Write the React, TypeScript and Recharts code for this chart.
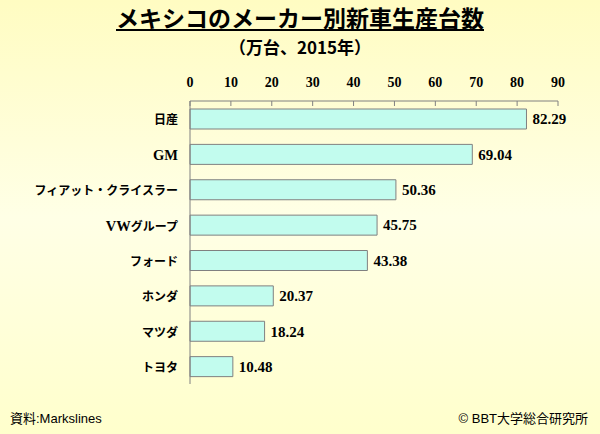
import { BarChart, Bar, XAxis, YAxis, LabelList } from 'recharts';

const makers = ['日産', 'GM', 'フィアット・クライスラー', 'VWグループ', 'フォード', 'ホンダ', 'マツダ', 'トヨタ'];
const units = [82.29, 69.04, 50.36, 45.75, 43.38, 20.37, 18.24, 10.48];
const xTicks = [0, 10, 20, 30, 40, 50, 60, 70, 80, 90];

const data = makers.map((name, i) => ({ name, value: units[i] }));

const SANS = '"Noto Sans CJK JP", "Liberation Sans", Arial, sans-serif';
const LATIN_SANS = '"Liberation Sans", Arial, "Noto Sans CJK JP", sans-serif';
const SERIF = '"Liberation Serif", "Times New Roman", serif';

function TopTick(props: any) {
  const { x, y, payload } = props;
  return (
    <g>
      <line x1={x} y1={y} x2={x} y2={y + 5} stroke="#808080" />
      <text x={x} y={y - 14} textAnchor="middle" fontFamily={SERIF} fontWeight="bold" fontSize={14} fill="#000">
        {payload.value}
      </text>
    </g>
  );
}

// latin letters in Times bold, kana/kanji in gothic
function MakerTick(props: any) {
  const { x, y, payload } = props;
  const parts = String(payload.value).match(/[A-Za-z]+|[^A-Za-z]+/g) || [];
  return (
    <text x={x} y={y} dy="0.36em" textAnchor="end" fontWeight="bold" fill="#000">
      {parts.map((p, i) =>
        /[A-Za-z]/.test(p) ? (
          <tspan key={i} fontFamily={SERIF} fontSize={14.5}>{p}</tspan>
        ) : (
          <tspan key={i} fontFamily={SANS} fontSize={12}>{p}</tspan>
        ),
      )}
    </text>
  );
}

export default function App() {
  return (
    <div
      style={{
        position: 'absolute', left: 0, top: 0, width: 600, height: 434, overflow: 'hidden',
        background: 'linear-gradient(180deg, #FFFCC2 0%, #FFFFE6 50%, #FFFFCC 100%)',
      }}
    >
      <div style={{ position: 'absolute', top: 3, left: 0, width: 600, textAlign: 'center', fontFamily: SANS, fontWeight: 'bold', fontSize: 23, textDecoration: 'underline', color: '#000', lineHeight: '28px' }}>
        メキシコのメーカー別新車生産台数
      </div>
      <div style={{ position: 'absolute', top: 36, left: 0, width: 600, textAlign: 'center', fontFamily: SANS, fontWeight: 'bold', fontSize: 17, color: '#000', lineHeight: '22px' }}>
        （万台、2015年）
      </div>
      <div style={{ position: 'absolute', left: 0, top: 0 }}>
        <BarChart
          width={600}
          height={434}
          data={data}
          layout="vertical"
          margin={{ top: 71, right: 42, bottom: 50, left: 0 }}
          barSize={20}
        >
          <XAxis
            type="number"
            orientation="top"
            height={30}
            domain={[0, 90]}
            ticks={xTicks}
            interval={0}
            axisLine={{ stroke: '#808080' }}
            tickLine={false}
            tickSize={0}
            tickMargin={0}
            tick={<TopTick />}
          />
          <YAxis
            type="category"
            dataKey="name"
            width={190}
            axisLine={{ stroke: '#808080' }}
            tickLine={false}
            tickSize={6}
            tickMargin={6}
            tick={<MakerTick />}
          />
          <Bar dataKey="value" fill="#C2FCEE" stroke="#808080" strokeWidth={1} isAnimationActive={false}>
            <LabelList
              dataKey="value"
              position="right"
              offset={6}
              formatter={(v: any) => Number(v).toFixed(2)}
              style={{ fontFamily: SERIF, fontWeight: 'bold', fontSize: 15, fill: '#000' }}
            />
          </Bar>
        </BarChart>
      </div>
      <div style={{ position: 'absolute', left: 10, top: 410, fontFamily: LATIN_SANS, fontSize: 13, color: '#000', lineHeight: '18px' }}>
        資料:Markslines
      </div>
      <div style={{ position: 'absolute', right: 12, top: 410, fontFamily: LATIN_SANS, fontSize: 13, color: '#000', lineHeight: '18px' }}>
        © BBT大学総合研究所
      </div>
    </div>
  );
}
